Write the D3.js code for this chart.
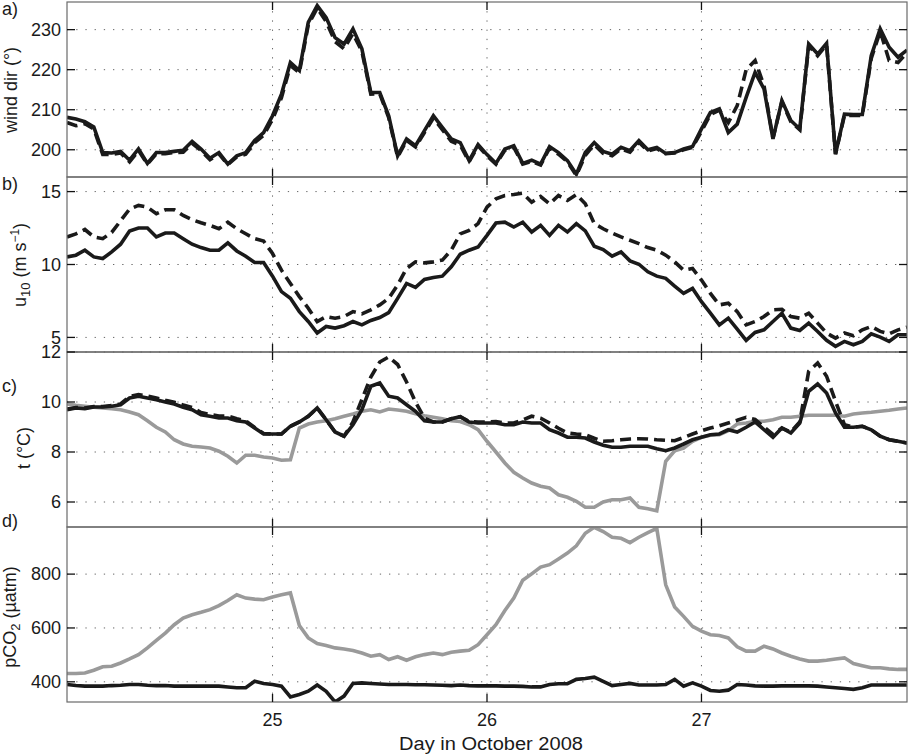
<!DOCTYPE html>
<html>
<head>
<meta charset="utf-8">
<script src="https://cdn.jsdelivr.net/npm/d3@7"></script>
<style>
  body { margin: 0; background: #fff; }
  text { font-family: "Liberation Sans", Arial, sans-serif; fill: #1a1a1a; }
</style>
</head>
<body>
<div id="chart"></div>
<script>
// hourly samples, hour 1..95 of 24 Oct 2008 onwards
const hours = d3.range(1, 96);
const days = hours.map(h => 24 + h / 24);

const xTicks = [25, 26, 27];

// a) wind direction
const windSolid = [208.1, 207.7, 207.0, 205.7, 199.3, 199.2, 199.6, 197.4, 200.2, 196.6, 199.3, 199.3, 199.6, 199.9, 202.1, 200.2, 197.9, 199.3, 196.4, 198.5, 199.3, 202.3, 204.3, 208.5, 213.9, 221.8, 219.8, 231.8, 236.0, 233.0, 228.0, 226.4, 230.2, 225.2, 214.3, 214.3, 208.5, 198.5, 202.7, 201.0, 204.8, 208.5, 205.6, 202.7, 201.8,
  197.3, 201.3, 198.8, 196.6, 200.2, 201.0, 196.6, 197.4, 196.4, 200.8, 199.3, 197.3, 193.9, 199.3, 201.8, 199.6, 198.9, 200.6, 199.8, 202.3, 200.0, 200.6, 199.1, 199.3, 200.2, 200.8, 205.2, 209.3, 210.2, 204.3, 206.4, 213.1, 219.3, 215.2, 202.7, 212.3, 207.3, 205.2, 226.4, 223.9, 226.6, 198.9, 208.9, 208.8, 208.8, 223.5, 230.2, 225.6, 223.1, 224.9];
const windDashed = [206.8, 206.0, 206.5, 205.2, 198.8, 198.8, 199.2, 197.0, 199.8, 196.4, 199.0, 199.0, 199.3, 199.4, 201.6, 199.8, 197.5, 199.0, 196.3, 198.2, 198.9, 201.8, 203.6, 207.6, 213.0, 221.0, 219.3, 231.2, 235.4, 232.0, 227.0, 225.2, 229.0, 224.6, 213.9, 214.0, 208.0, 198.2, 202.3, 200.7, 204.3, 207.9, 205.0, 202.1, 201.2,
  197.0, 201.0, 198.5, 196.4, 199.9, 200.6, 196.4, 197.1, 196.2, 200.4, 198.9, 197.0, 193.6, 198.6, 201.3, 199.1, 198.5, 200.2, 199.4, 201.9, 199.7, 200.3, 199.0, 199.2, 200.0, 200.6, 204.6, 208.8, 209.9, 206.8, 211.0, 220.0, 222.3, 216.0, 202.9, 212.0, 207.0, 205.0, 226.0, 223.5, 226.2, 198.9, 208.6, 208.6, 208.6, 222.8, 229.6, 222.3, 221.8, 224.2];

// b) wind speed u10
const u10Solid = [10.52, 10.64, 10.98, 10.52, 10.41, 10.86, 11.39, 12.30, 12.50, 12.50, 11.89, 12.16, 12.16, 11.77, 11.39, 11.16, 10.98, 10.98, 11.48, 10.93, 10.57, 10.14, 10.14, 9.20, 8.14, 7.68, 6.77, 6.09, 5.30, 5.75, 5.64, 5.80, 6.09, 5.86, 6.16, 6.36, 6.70, 7.68, 8.70, 8.43, 8.98, 9.11, 9.20, 9.84, 10.70,
  10.98, 11.20, 12.00, 12.84, 12.90, 12.57, 12.90, 12.23, 12.68, 12.00, 12.68, 12.23, 12.80, 12.30, 11.25, 11.02, 10.57, 10.86, 10.25, 10.02, 9.50, 9.20, 9.05, 8.52, 8.02, 8.36, 7.45, 6.66, 5.86, 6.32, 5.57, 4.80, 5.34, 5.52, 6.09, 6.66, 5.64, 5.48, 5.98, 5.41, 4.80, 4.39, 4.73, 4.50, 4.73, 5.25, 5.02, 4.73, 5.18, 5.18];
const u10Dashed = [11.89, 12.10, 12.40, 11.89, 11.77, 12.20, 13.00, 13.80, 14.05, 13.93, 13.48, 13.75, 13.75, 13.36, 13.07, 12.86, 12.68, 12.45, 12.90, 12.45, 12.11, 11.77, 11.61, 10.75, 9.61, 8.70, 7.80, 7.00, 6.09, 6.43, 6.32, 6.43, 6.77, 6.61, 6.89, 7.23, 7.68, 8.59, 9.73, 10.18, 10.11, 10.18, 10.30, 10.98, 12.10,
  12.34, 12.80, 13.93, 14.50, 14.73, 14.80, 14.89, 14.27, 14.66, 14.16, 14.73, 14.39, 14.80, 14.16, 12.80, 12.45, 12.16, 11.89, 11.66, 11.43, 11.16, 10.98, 10.64, 10.18, 9.61, 9.73, 8.93, 8.02, 7.23, 7.34, 6.77, 5.86, 6.09, 6.43, 6.89, 6.93, 6.43, 6.32, 6.66, 5.98, 5.30, 4.95, 5.30, 5.11, 5.52, 5.75, 5.41, 5.25, 5.52, 5.70];

// c) temperature
const tempSolid = [9.69, 9.76, 9.73, 9.80, 9.80, 9.83, 9.89, 10.16, 10.23, 10.16, 10.09, 10.00, 9.92, 9.79, 9.69, 9.49, 9.43, 9.36, 9.36, 9.25, 9.20, 8.96, 8.72, 8.72, 8.72, 9.03, 9.20, 9.43, 9.76, 9.29, 8.80, 8.63, 9.09, 9.69, 10.63, 10.76, 10.23, 10.16, 9.89, 9.63, 9.25, 9.20, 9.20, 9.33, 9.41,
  9.20, 9.16, 9.16, 9.16, 9.09, 9.09, 9.20, 9.16, 9.16, 8.89, 8.76, 8.59, 8.59, 8.56, 8.40, 8.27, 8.19, 8.19, 8.23, 8.23, 8.23, 8.13, 8.05, 8.16, 8.32, 8.49, 8.59, 8.69, 8.72, 8.89, 8.80, 8.99, 9.20, 8.89, 8.59, 8.96, 8.76, 9.16, 10.43, 10.72, 10.36, 9.56, 8.99, 8.99, 9.03, 8.89, 8.63, 8.49, 8.43, 8.36];
const tempDashed = [9.72, 9.78, 9.76, 9.82, 9.82, 9.86, 9.92, 10.22, 10.30, 10.24, 10.16, 10.07, 9.99, 9.88, 9.78, 9.58, 9.50, 9.44, 9.44, 9.33, 9.25, 8.98, 8.74, 8.72, 8.72, 9.03, 9.20, 9.43, 9.76, 9.29, 8.80, 8.63, 9.20, 10.10, 11.00, 11.60, 11.80, 11.50, 10.80, 10.00, 9.35, 9.20, 9.20, 9.33, 9.41,
  9.22, 9.20, 9.20, 9.22, 9.16, 9.16, 9.28, 9.43, 9.35, 9.16, 8.95, 8.76, 8.72, 8.69, 8.55, 8.43, 8.45, 8.49, 8.52, 8.53, 8.52, 8.49, 8.47, 8.45, 8.58, 8.72, 8.85, 8.96, 9.05, 9.16, 9.27, 9.39, 9.30, 9.00, 8.70, 8.96, 8.80, 9.20, 11.23, 11.56, 11.03, 10.03, 9.09, 8.99, 9.03, 8.89, 8.63, 8.49, 8.43, 8.36];
const tempGray = [9.92, 9.87, 9.83, 9.79, 9.76, 9.73, 9.69, 9.60, 9.49, 9.25, 8.99, 8.80, 8.49, 8.32, 8.23, 8.20, 8.16, 8.03, 7.83, 7.56, 7.87, 7.87, 7.80, 7.76, 7.67, 7.69, 8.96, 9.12, 9.20, 9.25, 9.33, 9.43, 9.52, 9.63, 9.69, 9.60, 9.72, 9.68, 9.63, 9.53, 9.45, 9.39, 9.33, 9.25, 9.22,
  9.09, 8.89, 8.43, 8.00, 7.56, 7.19, 6.96, 6.76, 6.63, 6.56, 6.29, 6.19, 6.03, 5.79, 5.79, 6.00, 6.09, 6.09, 6.16, 5.79, 5.73, 5.65, 7.63, 8.05, 8.16, 8.43, 8.59, 8.67, 8.69, 8.85, 9.12, 9.16, 9.23, 9.23, 9.29, 9.39, 9.39, 9.43, 9.47, 9.47, 9.47, 9.47, 9.43, 9.52, 9.56, 9.59, 9.63, 9.67, 9.72, 9.76];

// d) pCO2
const pco2Gray = [431, 431, 433, 443, 456, 458, 470, 485, 501, 526, 554, 581, 612, 637, 649, 658, 668, 683, 702, 723, 711, 707, 705, 715, 723, 730, 609, 563, 542, 535, 526, 522, 516, 507, 495, 501, 483, 493, 480, 493, 501, 507, 501, 510, 514,
  517, 538, 575, 612, 665, 711, 777, 801, 826, 835, 856, 878, 905, 952, 974, 958, 937, 933, 917, 937, 954, 970, 760, 678, 643, 606, 588, 575, 572, 563, 530, 514, 514, 532, 522, 507, 495, 485, 477, 477, 480, 485, 489, 468, 460, 452, 452, 448, 446, 446];
const pco2Black = [390, 386, 384, 384, 384, 386, 387, 390, 390, 387, 386, 386, 384, 384, 384, 384, 384, 384, 381, 378, 378, 402, 394, 390, 384, 344, 353, 365, 388, 365, 325, 347, 394, 396, 394, 392, 390, 390, 390, 389, 389, 388, 387, 386, 388,
  386, 385, 385, 385, 384, 384, 383, 381, 381, 390, 393, 393, 409, 412, 417, 402, 386, 390, 394, 388, 388, 388, 390, 409, 384, 396, 384, 368, 365, 369, 390, 388, 385, 384, 384, 385, 385, 385, 385, 384, 381, 378, 375, 372, 378, 388, 388, 388, 388, 388];

const windTicks = [200, 210, 220, 230];
const u10Ticks = [5, 10, 15];
const tempTicks = [6, 8, 10, 12];
const pco2Ticks = [400, 600, 800];

const panels = [
  { tag: "a)", domain: [193.2, 236.9], ticks: windTicks,
    series: [{ v: windDashed, kind: "dash" }, { v: windSolid, kind: "solid" }] },
  { tag: "b)", domain: [4, 16], ticks: u10Ticks,
    series: [{ v: u10Dashed, kind: "dash" }, { v: u10Solid, kind: "solid" }] },
  { tag: "c)", domain: [5, 12], ticks: tempTicks,
    series: [{ v: tempGray, kind: "gray" }, { v: tempDashed, kind: "dash" }, { v: tempSolid, kind: "solid" }] },
  { tag: "d)", domain: [325, 975], ticks: pco2Ticks,
    series: [{ v: pco2Gray, kind: "gray" }, { v: pco2Black, kind: "solid" }] }
];

const W = 910, H = 754;
const left = 67, right = 907, top0 = 2, panelH = 175;
const fs = 18;

const svg = d3.select("#chart").append("svg")
  .attr("width", W)
  .attr("height", H);

const x = d3.scaleLinear()
  .domain([24 + 1 / 24, 28 - 1 / 24])
  .range([left, right]);

const styles = {
  solid: { stroke: "#1a1a1a", dash: null },
  dash: { stroke: "#1a1a1a", dash: "11,6" },
  gray: { stroke: "#9a9a9a", dash: null }
};

panels.forEach((p, i) => {
  const y0 = top0 + i * panelH, y1 = y0 + panelH;
  const y = d3.scaleLinear().domain(p.domain).range([y1, y0]);
  const g = svg.append("g");

  // dotted grid
  g.selectAll(".gx").data(xTicks).enter().append("line")
    .attr("x1", d => x(d)).attr("x2", d => x(d))
    .attr("y1", y0).attr("y2", y1)
    .attr("stroke", "#666").attr("stroke-width", 1)
    .attr("stroke-dasharray", "1.3,7.9");
  g.selectAll(".gy").data(p.ticks).enter().append("line")
    .attr("x1", left).attr("x2", right)
    .attr("y1", d => y(d)).attr("y2", d => y(d))
    .attr("stroke", "#666").attr("stroke-width", 1)
    .attr("stroke-dasharray", "1.3,7.9");

  // data lines
  const clipId = "clip" + i;
  svg.append("clipPath").attr("id", clipId)
    .append("rect").attr("x", left).attr("y", y0).attr("width", right - left).attr("height", panelH);

  const line = d3.line()
    .x((d, j) => x(days[j]))
    .y(d => y(d));

  p.series.forEach(s => {
    const st = styles[s.kind];
    g.append("path")
      .datum(s.v)
      .attr("clip-path", `url(#${clipId})`)
      .attr("fill", "none")
      .attr("stroke", st.stroke)
      .attr("stroke-width", 3.6)
      .attr("stroke-linejoin", "miter")
      .attr("stroke-dasharray", st.dash)
      .attr("d", line);
  });

  // frame
  g.append("rect")
    .attr("x", left).attr("y", y0)
    .attr("width", right - left).attr("height", panelH)
    .attr("fill", "none").attr("stroke", "#6a6a6a").attr("stroke-width", 1.2);

  // inward ticks
  const tl = 8;
  xTicks.forEach(d => {
    g.append("line").attr("x1", x(d)).attr("x2", x(d)).attr("y1", y1).attr("y2", y1 - tl)
      .attr("stroke", "#111").attr("stroke-width", 1.3);
    g.append("line").attr("x1", x(d)).attr("x2", x(d)).attr("y1", y0).attr("y2", y0 + tl)
      .attr("stroke", "#111").attr("stroke-width", 1.3);
  });
  p.ticks.forEach(d => {
    g.append("line").attr("x1", left).attr("x2", left + tl).attr("y1", y(d)).attr("y2", y(d))
      .attr("stroke", "#111").attr("stroke-width", 1.3);
    g.append("line").attr("x1", right).attr("x2", right - tl).attr("y1", y(d)).attr("y2", y(d))
      .attr("stroke", "#111").attr("stroke-width", 1.3);
  });

  // y tick labels
  g.selectAll(".yl").data(p.ticks).enter().append("text")
    .attr("x", left - 6)
    .attr("y", d => y(d))
    .attr("dy", "0.35em")
    .attr("text-anchor", "end")
    .attr("font-size", fs)
    .text(d => d);
});

// x tick labels on the bottom panel
const yBottom = top0 + 4 * panelH;
svg.selectAll(".xl").data(xTicks).enter().append("text")
  .attr("x", d => x(d))
  .attr("y", yBottom + 24)
  .attr("text-anchor", "middle")
  .attr("font-size", fs)
  .text(d => d);

svg.append("text")
  .attr("x", (left + right) / 2 + 4)
  .attr("y", 750)
  .attr("text-anchor", "middle")
  .attr("font-size", fs)
  .attr("textLength", 184)
  .attr("lengthAdjust", "spacingAndGlyphs")
  .text("Day in October 2008");

// panel tags
const tagY = [15, 190, 392, 527];
panels.forEach((p, i) => {
  svg.append("text").attr("x", 2).attr("y", tagY[i])
    .attr("font-size", fs).text(p.tag);
});

// y axis titles
function yTitle(cx, cy, build) {
  const t = svg.append("text")
    .attr("transform", `translate(${cx},${cy}) rotate(-90)`)
    .attr("text-anchor", "middle")
    .attr("font-size", fs);
  build(t);
}
yTitle(17, 90, t => t.text("wind dir (°)"));
yTitle(26, 265, t => {
  t.append("tspan").text("u");
  t.append("tspan").attr("font-size", 13).attr("dy", 4).text("10");
  t.append("tspan").attr("dy", -4).text(" (m s");
  t.append("tspan").attr("font-size", 12).attr("dy", -7).text("−1");
  t.append("tspan").attr("dy", 7).text(")");
});
yTitle(30, 448, t => t.text("t (°C)"));
yTitle(16, 617, t => {
  t.append("tspan").text("pCO");
  t.append("tspan").attr("font-size", 13).attr("dy", 4).text("2");
  t.append("tspan").attr("dy", -4).text(" (µatm)");
});
</script>
</body>
</html>
